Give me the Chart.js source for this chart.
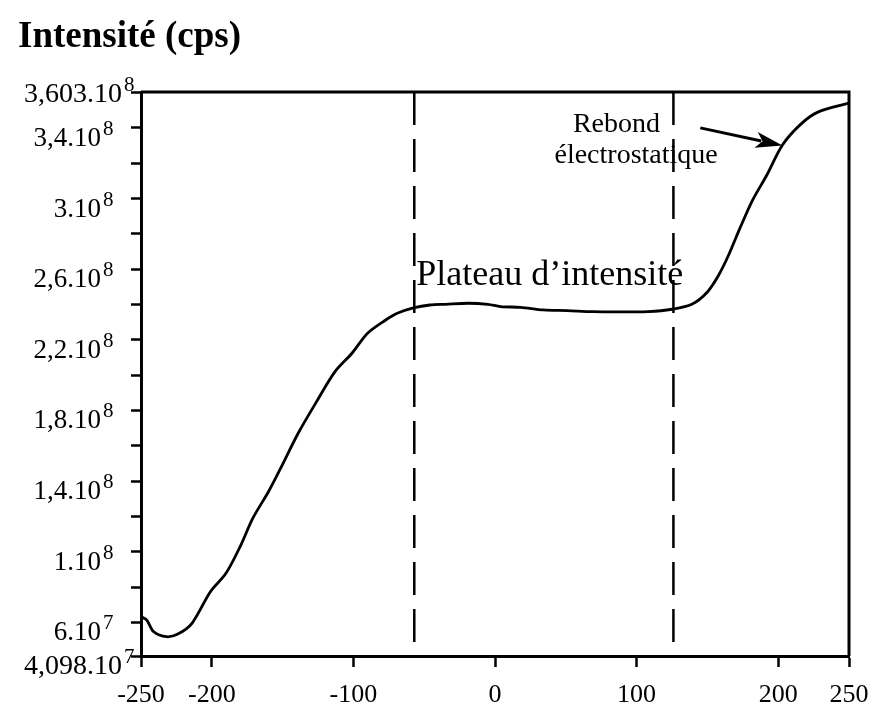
<!DOCTYPE html>
<html lang="fr">
<head>
<meta charset="utf-8">
<title>Intensité (cps)</title>
<script src="https://cdn.jsdelivr.net/npm/chart.js@4.4.1/dist/chart.umd.min.js"></script>
<style>
  html, body { margin: 0; padding: 0; background: #fff; }
</style>
</head>
<body>
<canvas id="intensityChart" width="886" height="713"></canvas>
<script>
// position along the scan and measured intensity (cps)
const positions = [-250, -246, -241, -232, -224, -214, -201, -190, -180, -171,
                   -160, -152, -139, -126, -113, -101, -90, -78, -69, -57,
                   -46, -35, -19, -5, 4, 18, 34, 51, 69, 92,
                   108, 125, 139, 150, 158, 165, 173, 182, 192, 203,
                   216, 228, 250];
const intensity = [6.32e7, 6.14e7, 5.47e7, 5.19e7, 5.34e7, 5.95e7, 7.74e7, 8.78e7, 1.029e8, 1.19e8,
                   1.34e8, 1.463e8, 1.671e8, 1.85e8, 2.02e8, 2.124e8, 2.237e8, 2.308e8, 2.35e8, 2.382e8,
                   2.397e8, 2.401e8, 2.407e8, 2.401e8, 2.388e8, 2.384e8, 2.369e8, 2.365e8, 2.359e8, 2.358e8,
                   2.359e8, 2.373e8, 2.401e8, 2.471e8, 2.567e8, 2.68e8, 2.832e8, 2.992e8, 3.133e8, 3.303e8,
                   3.421e8, 3.489e8, 3.54e8];

const xTickValues = [-250, -200, -100, 0, 100, 200, 250];
const yTickValues = [4.098e7, 6e7, 8e7, 1e8, 1.2e8, 1.4e8, 1.6e8, 1.8e8, 2e8,
                     2.2e8, 2.4e8, 2.6e8, 2.8e8, 3e8, 3.2e8, 3.4e8, 3.603e8];
const yTickLabels = ['4,098.10^7', '6.10^7', '', '1.10^8', '', '1,4.10^8', '', '1,8.10^8', '',
                     '2,2.10^8', '', '2,6.10^8', '', '3.10^8', '', '3,4.10^8', '3,603.10^8'];

// limits of the plateau
const plateauBounds = [-57, 126];
const plateauText = 'Plateau d\u2019intensité';
const reboundText = ['Rebond', 'électrostatique'];

const SERIF = '"Liberation Serif", "Times New Roman", serif';

// text anchors and arrow, in data units
const plateauTextY = 2.51e8;
const reboundAnchors = [[55, 3.377e8], [42, 3.201e8]];
const arrowFrom = [145, 3.40e8];
const arrowTo = [203, 3.30e8];

const decorations = {
  id: 'decorations',
  beforeDatasetsDraw(chart) {
    const {ctx, chartArea: a, scales: {x, y}} = chart;
    ctx.save();
    ctx.fillStyle = '#000';
    ctx.strokeStyle = '#000';

    // y labels: mantissa + raised exponent
    const last = yTickValues.length - 1;
    yTickValues.forEach((v, i) => {
      const label = yTickLabels[i];
      if (!label) return;
      const [base, exp] = label.split('^');
      const edge = i === 0 || i === last;
      const py = y.getPixelForValue(v);
      const baseY = py + (i === last ? 10 : 18);
      const right = a.left - (edge ? 19 : 40);
      ctx.textBaseline = 'alphabetic';
      ctx.textAlign = 'right';
      ctx.font = (edge ? 28 : 27) + 'px ' + SERIF;
      ctx.fillText(base, right, baseY);
      ctx.textAlign = 'left';
      ctx.font = '21px ' + SERIF;
      ctx.fillText(exp, right + 2, baseY - 11);
    });

    // dashed plateau limits
    ctx.lineWidth = 2.5;
    ctx.setLineDash([33, 14]);
    plateauBounds.forEach(v => {
      const px = x.getPixelForValue(v);
      ctx.beginPath();
      ctx.moveTo(px, a.top);
      ctx.lineTo(px, a.bottom);
      ctx.stroke();
    });
    ctx.setLineDash([]);

    // top and right sides of the box
    ctx.lineWidth = 3;
    ctx.beginPath();
    ctx.moveTo(a.left, a.top);
    ctx.lineTo(a.right, a.top);
    ctx.lineTo(a.right, a.bottom);
    ctx.stroke();

    // annotations
    ctx.textAlign = 'left';
    ctx.textBaseline = 'alphabetic';
    ctx.font = '36px ' + SERIF;
    ctx.fillText(plateauText, x.getPixelForValue(plateauBounds[0]) + 2, y.getPixelForValue(plateauTextY));
    ctx.font = '28px ' + SERIF;
    reboundText.forEach((t, i) => {
      ctx.fillText(t, x.getPixelForValue(reboundAnchors[i][0]), y.getPixelForValue(reboundAnchors[i][1]));
    });

    // arrow pointing at the rebound
    const fx = x.getPixelForValue(arrowFrom[0]), fy = y.getPixelForValue(arrowFrom[1]);
    const tx = x.getPixelForValue(arrowTo[0]), ty = y.getPixelForValue(arrowTo[1]);
    const ang = Math.atan2(ty - fy, tx - fx);
    const headLen = 27, headHalf = 8;
    ctx.lineWidth = 3;
    ctx.beginPath();
    ctx.moveTo(fx, fy);
    ctx.lineTo(tx - Math.cos(ang) * headLen * 0.8, ty - Math.sin(ang) * headLen * 0.8);
    ctx.stroke();
    ctx.beginPath();
    ctx.moveTo(tx, ty);
    ctx.lineTo(tx - Math.cos(ang) * headLen - Math.sin(ang) * headHalf, ty - Math.sin(ang) * headLen + Math.cos(ang) * headHalf);
    ctx.lineTo(tx - Math.cos(ang) * headLen * 0.75, ty - Math.sin(ang) * headLen * 0.75);
    ctx.lineTo(tx - Math.cos(ang) * headLen + Math.sin(ang) * headHalf, ty - Math.sin(ang) * headLen - Math.cos(ang) * headHalf);
    ctx.closePath();
    ctx.fill();

    ctx.restore();
  }
};

const ctx = document.getElementById('intensityChart');

new Chart(ctx, {
  type: 'line',
  data: {
    datasets: [{
      data: positions.map((p, i) => ({x: p, y: intensity[i]})),
      borderColor: '#000',
      borderWidth: 2.8,
      pointRadius: 0,
      tension: 0.3,
      fill: false
    }]
  },
  options: {
    responsive: false,
    animation: false,
    devicePixelRatio: 1,
    layout: {
      padding: {left: 18, right: 37, top: 0, bottom: 0}
    },
    scales: {
      x: {
        type: 'linear',
        min: -250,
        max: 250,
        afterBuildTicks: s => { s.ticks = xTickValues.map(v => ({value: v})); },
        afterFit: s => { s.height = 57; },
        border: {display: true, color: '#000', width: 3},
        grid: {
          drawOnChartArea: false,
          drawTicks: true,
          tickLength: 11,
          tickWidth: 2.5,
          tickColor: '#000'
        },
        ticks: {
          autoSkip: false,
          maxRotation: 0,
          padding: 13,
          color: '#000',
          font: {family: SERIF, size: 26},
          callback: v => String(v)
        }
      },
      y: {
        type: 'linear',
        min: 4.098e7,
        max: 3.603e8,
        afterBuildTicks: s => { s.ticks = yTickValues.map(v => ({value: v})); },
        afterFit: s => { s.width = 123; },
        border: {display: true, color: '#000', width: 3},
        grid: {
          drawOnChartArea: false,
          drawTicks: true,
          tickLength: 10,
          tickWidth: 2.5,
          tickColor: '#000'
        },
        ticks: {display: false}
      }
    },
    plugins: {
      legend: {display: false},
      tooltip: {enabled: false},
      title: {
        display: true,
        text: 'Intensité (cps)',
        align: 'start',
        color: '#000',
        font: {family: SERIF, size: 37, weight: 'bold', lineHeight: 1.2},
        padding: {top: 15, bottom: 32.6}
      }
    }
  },
  plugins: [decorations]
});
</script>
</body>
</html>
